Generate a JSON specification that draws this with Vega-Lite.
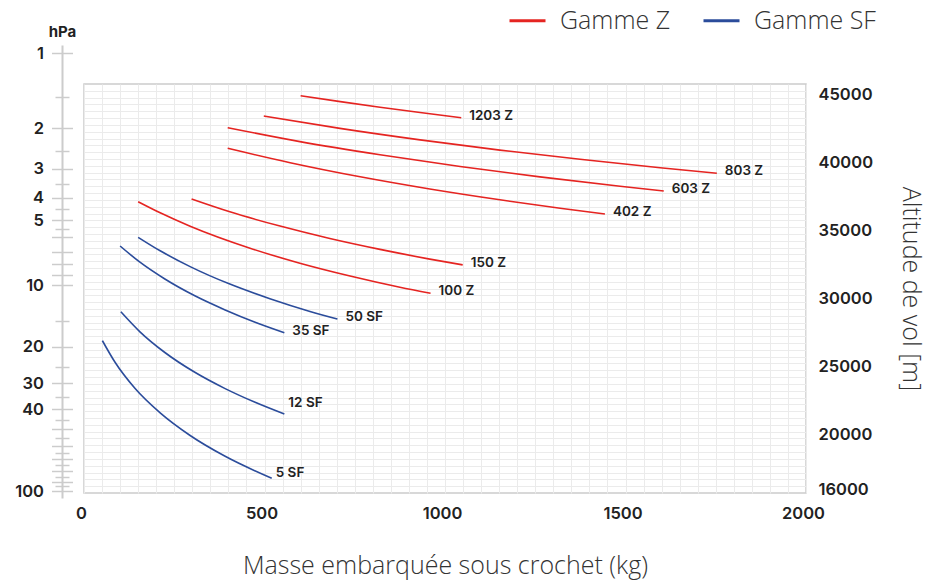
{
  "$schema": "https://vega.github.io/schema/vega-lite/v6.json",
  "width": 722,
  "height": 409,
  "autosize": {"type": "none"},
  "padding": {"left": 84, "top": 84, "right": 124, "bottom": 89},
  "background": "white",
  "config": {
    "view": {"stroke": "#cccccc", "strokeWidth": 1.5},
    "font": "Inter",
    "axis": {
      "labelFont": "Inter",
      "labelFontWeight": 600,
      "labelFontSize": 16.5,
      "labelColor": "#222222",
      "titleFont": "Open Sans",
      "titleFontWeight": 300,
      "titleFontSize": 25,
      "titleColor": "#333333",
      "labelOverlap": false,
      "labelFlush": false,
      "labelBound": false
    },
    "legend": {
      "labelFont": "Open Sans",
      "labelFontWeight": 300,
      "labelFontSize": 25,
      "labelColor": "#333333"
    }
  },
  "datasets": {
    "curves": [
      {"curve": "1203 Z", "gamme": "Gamme Z", "mass": 600, "alt": 44877},
      {"curve": "1203 Z", "gamme": "Gamme Z", "mass": 710, "alt": 44444},
      {"curve": "1203 Z", "gamme": "Gamme Z", "mass": 820, "alt": 44033},
      {"curve": "1203 Z", "gamme": "Gamme Z", "mass": 931, "alt": 43645},
      {"curve": "1203 Z", "gamme": "Gamme Z", "mass": 1045, "alt": 43263},
      {"curve": "803 Z", "gamme": "Gamme Z", "mass": 498, "alt": 43388},
      {"curve": "803 Z", "gamme": "Gamme Z", "mass": 709, "alt": 42478},
      {"curve": "803 Z", "gamme": "Gamme Z", "mass": 931, "alt": 41635},
      {"curve": "803 Z", "gamme": "Gamme Z", "mass": 1152, "alt": 40887},
      {"curve": "803 Z", "gamme": "Gamme Z", "mass": 1374, "alt": 40212},
      {"curve": "803 Z", "gamme": "Gamme Z", "mass": 1596, "alt": 39596},
      {"curve": "803 Z", "gamme": "Gamme Z", "mass": 1753, "alt": 39185},
      {"curve": "603 Z", "gamme": "Gamme Z", "mass": 398, "alt": 42530},
      {"curve": "603 Z", "gamme": "Gamme Z", "mass": 598, "alt": 41510},
      {"curve": "603 Z", "gamme": "Gamme Z", "mass": 820, "alt": 40542},
      {"curve": "603 Z", "gamme": "Gamme Z", "mass": 1042, "alt": 39684},
      {"curve": "603 Z", "gamme": "Gamme Z", "mass": 1263, "alt": 38921},
      {"curve": "603 Z", "gamme": "Gamme Z", "mass": 1485, "alt": 38239},
      {"curve": "603 Z", "gamme": "Gamme Z", "mass": 1606, "alt": 37887},
      {"curve": "402 Z", "gamme": "Gamme Z", "mass": 398, "alt": 41019},
      {"curve": "402 Z", "gamme": "Gamme Z", "mass": 571, "alt": 39962},
      {"curve": "402 Z", "gamme": "Gamme Z", "mass": 765, "alt": 38928},
      {"curve": "402 Z", "gamme": "Gamme Z", "mass": 958, "alt": 38033},
      {"curve": "402 Z", "gamme": "Gamme Z", "mass": 1152, "alt": 37241},
      {"curve": "402 Z", "gamme": "Gamme Z", "mass": 1319, "alt": 36625},
      {"curve": "402 Z", "gamme": "Gamme Z", "mass": 1443, "alt": 36199},
      {"curve": "150 Z", "gamme": "Gamme Z", "mass": 298, "alt": 37300},
      {"curve": "150 Z", "gamme": "Gamme Z", "mass": 404, "alt": 36361},
      {"curve": "150 Z", "gamme": "Gamme Z", "mass": 543, "alt": 35312},
      {"curve": "150 Z", "gamme": "Gamme Z", "mass": 681, "alt": 34402},
      {"curve": "150 Z", "gamme": "Gamme Z", "mass": 820, "alt": 33603},
      {"curve": "150 Z", "gamme": "Gamme Z", "mass": 958, "alt": 32891},
      {"curve": "150 Z", "gamme": "Gamme Z", "mass": 1049, "alt": 32466},
      {"curve": "100 Z", "gamme": "Gamme Z", "mass": 150, "alt": 37102},
      {"curve": "100 Z", "gamme": "Gamme Z", "mass": 211, "alt": 36288},
      {"curve": "100 Z", "gamme": "Gamme Z", "mass": 294, "alt": 35305},
      {"curve": "100 Z", "gamme": "Gamme Z", "mass": 460, "alt": 33691},
      {"curve": "100 Z", "gamme": "Gamme Z", "mass": 598, "alt": 32591},
      {"curve": "100 Z", "gamme": "Gamme Z", "mass": 737, "alt": 31652},
      {"curve": "100 Z", "gamme": "Gamme Z", "mass": 875, "alt": 30830},
      {"curve": "100 Z", "gamme": "Gamme Z", "mass": 960, "alt": 30383},
      {"curve": "50 SF", "gamme": "Gamme SF", "mass": 150, "alt": 34490},
      {"curve": "50 SF", "gamme": "Gamme SF", "mass": 211, "alt": 33500},
      {"curve": "50 SF", "gamme": "Gamme SF", "mass": 294, "alt": 32341},
      {"curve": "50 SF", "gamme": "Gamme SF", "mass": 404, "alt": 31058},
      {"curve": "50 SF", "gamme": "Gamme SF", "mass": 515, "alt": 29987},
      {"curve": "50 SF", "gamme": "Gamme SF", "mass": 626, "alt": 29055},
      {"curve": "50 SF", "gamme": "Gamme SF", "mass": 702, "alt": 28498},
      {"curve": "35 SF", "gamme": "Gamme SF", "mass": 100, "alt": 33852},
      {"curve": "35 SF", "gamme": "Gamme SF", "mass": 155, "alt": 32664},
      {"curve": "35 SF", "gamme": "Gamme SF", "mass": 224, "alt": 31432},
      {"curve": "35 SF", "gamme": "Gamme SF", "mass": 307, "alt": 30200},
      {"curve": "35 SF", "gamme": "Gamme SF", "mass": 391, "alt": 29165},
      {"curve": "35 SF", "gamme": "Gamme SF", "mass": 474, "alt": 28263},
      {"curve": "35 SF", "gamme": "Gamme SF", "mass": 555, "alt": 27493},
      {"curve": "12 SF", "gamme": "Gamme SF", "mass": 102, "alt": 29033},
      {"curve": "12 SF", "gamme": "Gamme SF", "mass": 155, "alt": 27559},
      {"curve": "12 SF", "gamme": "Gamme SF", "mass": 224, "alt": 26041},
      {"curve": "12 SF", "gamme": "Gamme SF", "mass": 307, "alt": 24588},
      {"curve": "12 SF", "gamme": "Gamme SF", "mass": 391, "alt": 23393},
      {"curve": "12 SF", "gamme": "Gamme SF", "mass": 474, "alt": 22388},
      {"curve": "12 SF", "gamme": "Gamme SF", "mass": 555, "alt": 21529},
      {"curve": "5 SF", "gamme": "Gamme SF", "mass": 51, "alt": 26906},
      {"curve": "5 SF", "gamme": "Gamme SF", "mass": 86, "alt": 25322},
      {"curve": "5 SF", "gamme": "Gamme SF", "mass": 141, "alt": 23415},
      {"curve": "5 SF", "gamme": "Gamme SF", "mass": 211, "alt": 21610},
      {"curve": "5 SF", "gamme": "Gamme SF", "mass": 294, "alt": 19952},
      {"curve": "5 SF", "gamme": "Gamme SF", "mass": 391, "alt": 18427},
      {"curve": "5 SF", "gamme": "Gamme SF", "mass": 520, "alt": 16813}
    ],
    "hpa": [
      {"hPa": 1}, {"hPa": 2}, {"hPa": 3}, {"hPa": 4}, {"hPa": 5},
      {"hPa": 10}, {"hPa": 20}, {"hPa": 30}, {"hPa": 40}, {"hPa": 100}
    ]
  },
  "layer": [
    {
      "data": {"name": "curves"},
      "encoding": {
        "x": {
          "field": "mass",
          "type": "quantitative",
          "scale": {"domain": [0, 2000], "nice": false, "zero": false},
          "axis": {
            "values": [0,50,100,150,200,250,300,350,400,450,500,550,600,650,700,750,800,850,900,950,1000,1050,1100,1150,1200,1250,1300,1350,1400,1450,1500,1550,1600,1650,1700,1750,1800,1850,1900,1950,2000],
            "labelExpr": "datum.value % 500 == 0 ? format(datum.value, 'd') : ''",
            "grid": true,
            "gridColor": "#ebebeb",
            "gridWidth": 1,
            "ticks": false,
            "tickSize": 0,
            "domain": false,
            "labelPadding": 12,
            "labelOffset": -3,
            "title": "Masse embarquée sous crochet (kg)",
            "titlePadding": 32
          }
        },
        "y": {
          "field": "alt",
          "type": "quantitative",
          "scale": {"domain": [15735, 45735], "nice": false, "zero": false},
          "axis": {
            "orient": "right",
            "values": [16000,20000,25000,30000,35000,40000,45000,16235,16735,17235,17735,18235,18735,19235,19735,20235,20735,21235,21735,22235,22735,23235,23735,24235,24735,25235,25735,26235,26735,27235,27735,28235,28735,29235,29735,30235,30735,31235,31735,32235,32735,33235,33735,34235,34735,35235,35735,36235,36735,37235,37735,38235,38735,39235,39735,40235,40735,41235,41735,42235,42735,43235,43735,44235,44735,45235],
            "labelExpr": "datum.value % 500 == 0 ? format(datum.value, 'd') : ''",
            "grid": true,
            "gridColor": "#ebebeb",
            "gridWidth": 1,
            "gridOpacity": {"condition": {"test": "datum.value % 500 == 0", "value": 0}, "value": 1},
            "ticks": false,
            "tickSize": 0,
            "domain": false,
            "labelPadding": 12,
            "title": "Altitude de vol [m]",
            "titlePadding": 25
          }
        }
      },
      "layer": [
        {
          "mark": {"type": "line", "strokeWidth": 1.6, "interpolate": "monotone"},
          "encoding": {
            "color": {
              "field": "gamme",
              "type": "nominal",
              "scale": {"domain": ["Gamme Z", "Gamme SF"], "range": ["#e52421", "#2b4c9b"]},
              "legend": {
                "title": null,
                "orient": "none",
                "legendX": 424,
                "legendY": -83,
                "direction": "horizontal",
                "symbolType": "stroke",
                "symbolSize": 1296,
                "symbolStrokeWidth": 3,
                "labelOffset": 13,
                "columnPadding": 26
              }
            },
            "detail": {"field": "curve"},
            "order": {"field": "mass", "type": "quantitative"}
          }
        },
        {
          "transform": [
            {"window": [{"op": "row_number", "as": "r"}], "sort": [{"field": "mass", "order": "descending"}], "groupby": ["curve"]},
            {"filter": "datum.r == 1"}
          ],
          "layer": [
            {
              "transform": [{"filter": "datum.curve != '12 SF' && datum.curve != '5 SF'"}],
              "mark": {"type": "text", "align": "left", "baseline": "middle", "dx": 8, "dy": -2, "font": "Inter", "fontWeight": 600, "fontSize": 13.5, "color": "#222222"},
              "encoding": {"text": {"field": "curve"}}
            },
            {
              "transform": [{"filter": "datum.curve == '12 SF'"}],
              "mark": {"type": "text", "align": "left", "baseline": "middle", "dx": 4, "dy": -11, "font": "Inter", "fontWeight": 600, "fontSize": 13.5, "color": "#222222"},
              "encoding": {"text": {"field": "curve"}}
            },
            {
              "transform": [{"filter": "datum.curve == '5 SF'"}],
              "mark": {"type": "text", "align": "left", "baseline": "middle", "dx": 4, "dy": -5, "font": "Inter", "fontWeight": 600, "fontSize": 13.5, "color": "#222222"},
              "encoding": {"text": {"field": "curve"}}
            }
          ]
        }
      ]
    },
    {
      "data": {"name": "hpa"},
      "mark": {"type": "point", "opacity": 0},
      "encoding": {
        "y": {
          "field": "hPa",
          "type": "quantitative",
          "scale": {"type": "log", "domain": [0.926, 1, 2, 5, 10, 20, 50, 100, 108.2], "range": [-39, -30.7, 44.3, 136, 201, 262.7, 345.3, 407, 414], "nice": false},
          "axis": {
            "orient": "left",
            "offset": 22,
            "values": [1,1.5,2,2.5,3,3.5,4,4.5,5,5.5,6,7,8,9,10,15,20,25,30,35,40,45,50,55,60,65,70,75,80,85,90,95,100],
            "labelExpr": "indexof([1,2,3,4,5,10,20,30,40,100], datum.value) >= 0 ? format(datum.value, 'd') : ''",
            "tickSize": {"condition": {"test": "(datum.value <= 10 && datum.value % 1 == 0) || datum.value % 10 == 0", "value": 10.5}, "value": 7},
            "tickColor": "#cccccc",
            "tickWidth": 1.5,
            "domainColor": "#cccccc",
            "domainWidth": 2,
            "grid": false,
            "labelPadding": 8,
            "title": "hPa",
            "titleAngle": 0,
            "titleX": 0,
            "titleY": -53,
            "titleAlign": "center",
            "titleBaseline": "middle",
            "titleFont": "Inter",
            "titleFontWeight": 700,
            "titleFontSize": 15,
            "titleColor": "#222222"
          }
        }
      }
    },
    {
      "data": {"name": "hpa"},
      "mark": {"type": "point", "opacity": 0},
      "encoding": {
        "y": {
          "field": "hPa",
          "type": "quantitative",
          "scale": {"type": "log", "domain": [0.926, 1, 2, 5, 10, 20, 50, 100, 108.2], "range": [-39, -30.7, 44.3, 136, 201, 262.7, 345.3, 407, 414], "nice": false},
          "axis": {
            "orient": "left",
            "offset": 22,
            "values": [1,1.5,2,2.5,3,3.5,4,4.5,5,5.5,6,7,8,9,10,15,20,25,30,35,40,45,50,55,60,65,70,75,80,85,90,95,100],
            "labels": false,
            "domain": false,
            "grid": false,
            "tickSize": {"condition": {"test": "(datum.value <= 10 && datum.value % 1 == 0) || datum.value % 10 == 0", "value": -10.5}, "value": -7},
            "tickColor": "#cccccc",
            "tickWidth": 1.5,
            "title": null
          }
        }
      }
    }
  ],
  "resolve": {"scale": {"y": "independent"}}
}
